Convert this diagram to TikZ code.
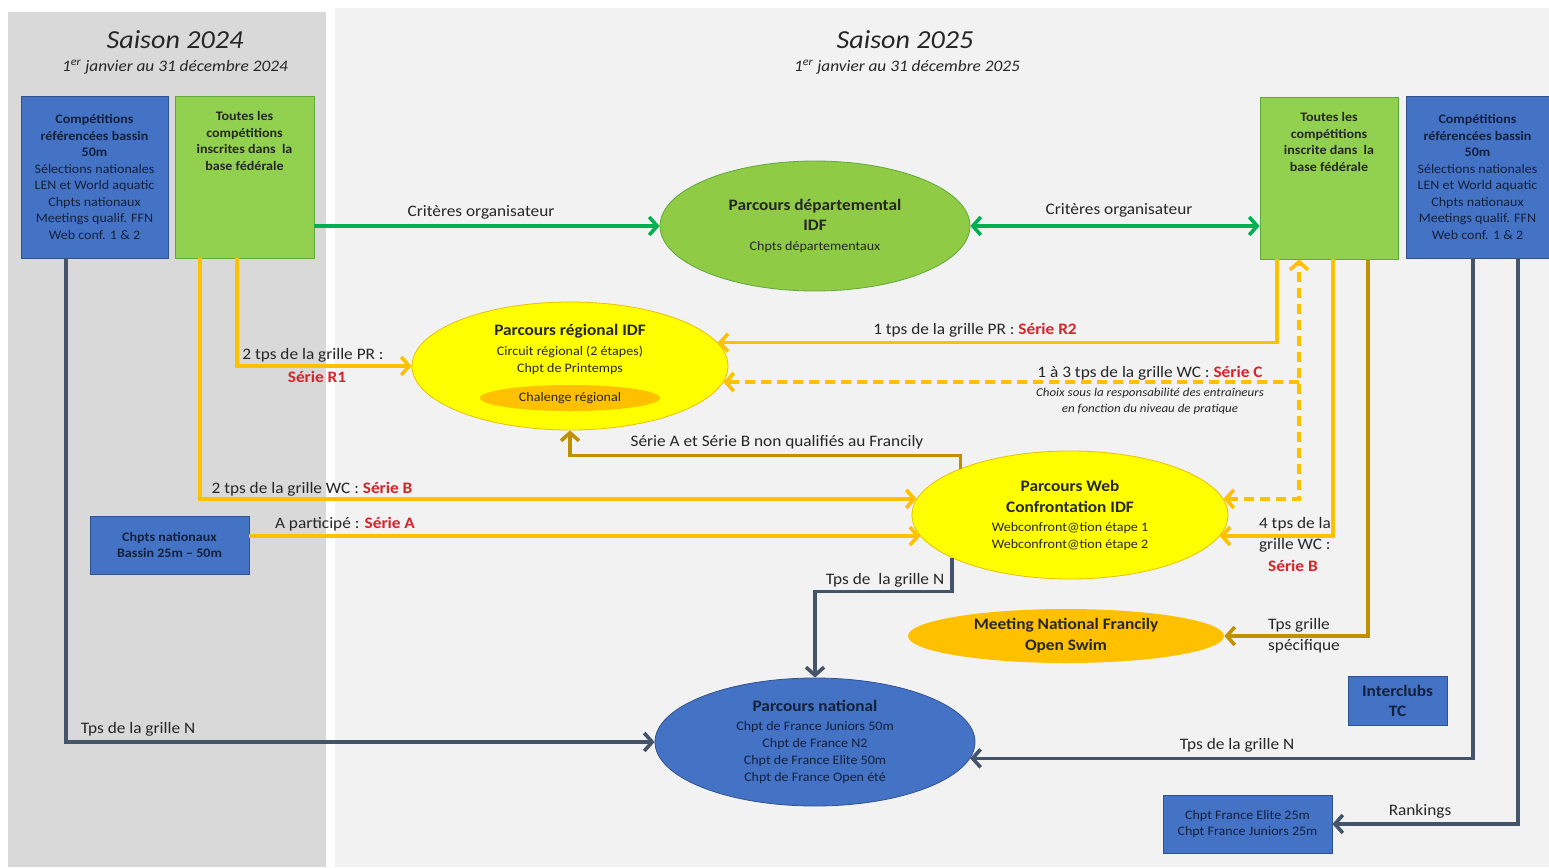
\documentclass[tikz,border=0pt]{standalone}
\usepackage{fontspec}
\setmainfont{Carlito}[FakeStretch=1.08]
\usetikzlibrary{arrows.meta,shapes.geometric}
\definecolor{panelL}{HTML}{D9D9D9}
\definecolor{panelR}{HTML}{F2F2F2}
\definecolor{bluef}{HTML}{4472C4}
\definecolor{blued}{HTML}{2F528F}
\definecolor{navy}{HTML}{14213D}
\definecolor{greenf}{HTML}{92D050}
\definecolor{greend}{HTML}{5FA83A}
\definecolor{deptf}{HTML}{8FCB44}
\definecolor{yelf}{HTML}{FFFF00}
\definecolor{yeld}{HTML}{E8C000}
\definecolor{orangef}{HTML}{FFC000}
\definecolor{arrY}{HTML}{FFC000}
\definecolor{arrG}{HTML}{00B050}
\definecolor{arrD}{HTML}{BF9000}
\definecolor{arrS}{HTML}{44546A}
\definecolor{serred}{HTML}{D8232A}
\definecolor{txt}{HTML}{262626}
\newcommand\myserie[1]{\textcolor{serred}{\textbf{#1}}}
\newcommand\mybig[1]{{\bfseries\fontsize{16}{17}\selectfont #1}}
\begin{document}
\begin{tikzpicture}[x=1pt,y=-1pt,
  bbox/.style={draw=blued, fill=bluef, line width=0.8pt, inner sep=0pt, align=center, text=navy,
     font=\fontsize{13}{16.5}\selectfont},
  gbox/.style={draw=greend, fill=greenf, line width=0.8pt, inner sep=0pt},
  btxt/.style={align=center, inner sep=0pt, text=txt, font=\fontsize{13}{16.5}\selectfont},
  ell/.style={ellipse, inner sep=0pt, align=center, line width=0.8pt},
  lab/.style={inner sep=0pt, text=txt, font=\fontsize{16}{21}\selectfont, align=center},
  arr/.style={line width=3.6pt, -{Straight Barb[length=8pt,width=18pt]}},
  arrboth/.style={line width=3.6pt, {Straight Barb[length=8pt,width=18pt]}-{Straight Barb[length=8pt,width=18pt]}},
  dashedline/.style={dash pattern=on 10pt off 6pt}
]
\useasboundingbox (0,0) rectangle (1549,867);
\fill[white] (0,0) rectangle (1549,867);
\fill[panelL] (8,12) rectangle (326,867);
\fill[panelR] (335,8) rectangle (1549,867);

% titles
\node[inner sep=0pt, text=txt, font=\itshape\fontsize{26}{30}\selectfont] (t24) at (175,40) {Saison 2024};
\node[inner sep=0pt, text=txt, font=\itshape\fontsize{16}{19}\selectfont] (s24) at (175,67) {1\textsuperscript{er} janvier au 31 décembre 2024};
\node[inner sep=0pt, text=txt, font=\itshape\fontsize{26}{30}\selectfont] (t25) at (905,40) {Saison 2025};
\node[inner sep=0pt, text=txt, font=\itshape\fontsize{16}{19}\selectfont] (s25) at (907,67) {1\textsuperscript{er} janvier au 31 décembre 2025};

% boxes
\node[bbox, minimum width=147pt, minimum height=162pt] (b1) at (94.5,177)
 {\textbf{Compétitions}\\\textbf{référencées bassin}\\\textbf{50m}\\Sélections nationales\\LEN et World aquatic\\Chpts nationaux\\Meetings qualif. FFN\\Web conf. 1 \& 2};
\node[gbox, minimum width=139pt, minimum height=162pt] (g1) at (244.5,177) {};
\node[btxt, anchor=north] (g1t) at ([yshift=-16pt]g1.north)
 {\textbf{Toutes les}\\\textbf{compétitions}\\\textbf{inscrites dans\ \ la}\\\textbf{base fédérale}};
\node[gbox, minimum width=138pt, minimum height=162pt] (g2) at (1329,178) {};
\node[btxt, anchor=north] (g2t) at ([yshift=-16pt]g2.north)
 {\textbf{Toutes les}\\\textbf{compétitions}\\\textbf{inscrite dans\ \ la}\\\textbf{base fédérale}};
\node[bbox, minimum width=143pt, minimum height=162pt] (b2) at (1477.5,177)
 {\textbf{Compétitions}\\\textbf{référencées bassin}\\\textbf{50m}\\Sélections nationales\\LEN et World aquatic\\Chpts nationaux\\Meetings qualif. FFN\\Web conf. 1 \& 2};
\node[bbox, minimum width=159pt, minimum height=58pt] (cn) at (169.5,545)
 {\textbf{Chpts nationaux}\\\textbf{Bassin 25m – 50m}};
\node[bbox, minimum width=99pt, minimum height=49pt, font=\bfseries\fontsize{16}{20}\selectfont] (ic) at (1397.5,700.5)
 {Interclubs\\TC};
\node[bbox, minimum width=169pt, minimum height=58pt] (fe) at (1247.5,824)
 {Chpt France Elite 25m\\Chpt France Juniors 25m};

% ellipses
\node[ell, draw=greend, fill=deptf, minimum width=310pt, minimum height=130pt, text=txt,
      font=\fontsize{13}{20}\selectfont] (dept) at (815,226)
 {\mybig{Parcours départemental}\\\mybig{IDF}\\Chpts départementaux};
\node[ell, draw=yeld, fill=yelf, minimum width=316pt, minimum height=128pt] (reg) at (570,366) {};
\node[ell, fill=orangef, minimum width=180pt, minimum height=26pt, text=txt, font=\fontsize{13}{15}\selectfont] (chal) at (570,398) {Chalenge régional};
\node[inner sep=0pt, align=center, text=txt, font=\fontsize{13}{17}\selectfont] (regt) at (570,349)
 {\mybig{Parcours régional IDF}\\[3pt]Circuit régional (2 étapes)\\Chpt de Printemps};
\node[ell, draw=yeld, fill=yelf, minimum width=316pt, minimum height=128pt, text=txt,
      font=\fontsize{13}{17}\selectfont] (web) at (1070,515)
 {\mybig{Parcours Web}\\[4pt]\mybig{Confrontation IDF}\\[2pt]Webconfront@tion étape 1\\Webconfront@tion étape 2};
\node[ell, fill=orangef, minimum width=316pt, minimum height=54pt, text=txt,
      font=\fontsize{13}{21}\selectfont] (meet) at (1066,636)
 {\mybig{Meeting National Francily}\\\mybig{Open Swim}};
\node[ell, draw=blued, fill=bluef, minimum width=320pt, minimum height=128pt, text=navy,
      font=\fontsize{13}{16.8}\selectfont] (nat) at (815,742)
 {\mybig{Parcours national}\\[2pt]Chpt de France Juniors 50m\\Chpt de France N2\\Chpt de France Elite 50m\\Chpt de France Open été};

% green connectors
\draw[arr, arrG] (g1.east |- dept.west) -- (dept.west);
\draw[arrboth, arrG] (dept.east) -- (g2.west |- dept.east);

% yellow connectors
\draw[arr, arrY] ([xshift=-7.5pt]g1.south) |- (reg.west);
\draw[arr, arrY] ([xshift=-44.5pt]g1.south) |- (web.174);
\draw[arr, arrY] (cn.east |- web.188) -- (web.188);
\draw[arr, arrY] ([xshift=-52pt]g2.south) |- (reg.9);
\draw[arr, arrY] ([xshift=4pt]g2.south) |- (web.352);
\draw[arrboth, arrY, dashedline] (web.6) -| ([xshift=-30pt]g2.south);
\coordinate (cbr) at ([xshift=-30pt]g2.south |- reg.354);
\draw[arr, arrY, dashedline] (cbr) -- (reg.354);

% dark gold connectors
\draw[arr, arrD] ([xshift=39pt]g2.south) |- (meet.east);
\draw[arr, arrD] (web.157) |- ([yshift=-25pt]reg.south) -- (reg.south);

% slate connectors
\draw[arr, arrS] ([xshift=-28.5pt]b1.south) |- (nat.west);
\draw[arr, arrS] (web.200) |- ([yshift=86pt]nat.north) -- (nat.north);
\draw[arr, arrS] ([xshift=-4.5pt]b2.south) |- (nat.354);
\draw[arr, arrS] ([xshift=40.5pt]b2.south) |- (fe.east);

% labels
\node[lab] (l1) at (481,212) {Critères organisateur};
\node[lab] (l2) at (1119,210) {Critères organisateur};
\node[lab] (l3) at (313,355) {2 tps de la grille PR :};
\node[lab] (l3b) at (317,377) {\myserie{Série R1}};
\node[lab] (l4) at (975,330) {1 tps de la grille PR : \myserie{Série R2}};
\node[lab] (l5) at (1150,373) {1 à 3 tps de la grille WC : \myserie{Série C}};
\node[lab, font=\itshape\fontsize{12}{16}\selectfont] (l5b) at (1150,401) {Choix sous la responsabilité des entraîneurs\\en fonction du niveau de pratique};
\node[lab] (l6) at (777,442) {Série A et Série B non qualifiés au Francily};
\node[lab] (l7) at (312,489) {2 tps de la grille WC : \myserie{Série B}};
\node[lab] (l8) at (345,524) {A participé : \myserie{Série A}};
\node[lab, align=left] (l9) at (1295,535) {4 tps de la\\grille WC :};
\node[lab] (l9b) at (1293,566) {\myserie{Série B}};
\node[lab] (l10) at (885,580) {Tps de\ \ la grille N};
\node[lab, align=left] (l11) at (1304,636) {Tps grille\\spécifique};
\node[lab] (l12) at (138,729) {Tps de la grille N};
\node[lab] (l13) at (1237,745) {Tps de la grille N};
\node[lab] (l14) at (1420,811) {Rankings};
\end{tikzpicture}
\end{document}
